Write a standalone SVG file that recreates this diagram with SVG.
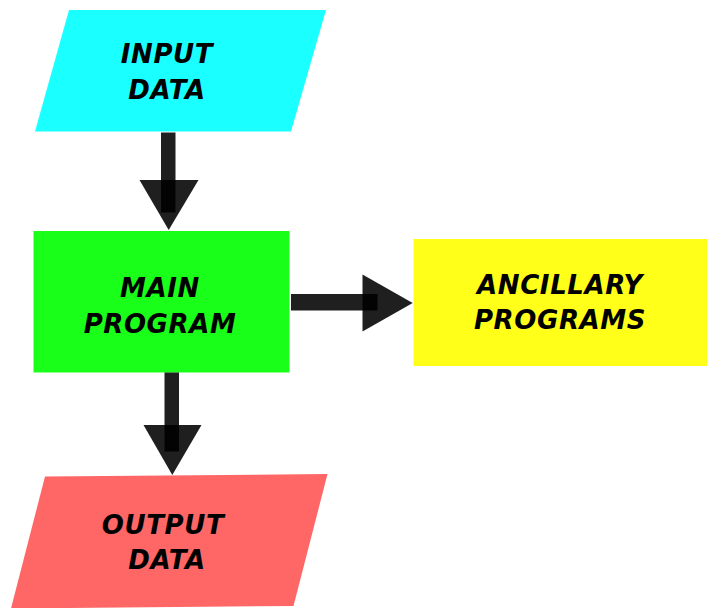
<svg xmlns="http://www.w3.org/2000/svg" width="707" height="608" viewBox="0 0 707 608">
<style>
  .lbl { font-family: "DejaVu Sans", "Liberation Sans", sans-serif; font-weight: bold; font-style: italic; font-size: 26px; letter-spacing: 0.6px; fill: #000; text-anchor: middle; }
  .arr { fill: #000; fill-opacity: 0.88; }
</style>
<rect width="707" height="608" fill="#fff"/>
<g id="input">
  <polygon points="69,10 326,10 291,131.5 35,131.5" fill="#1affff"/>
  <text class="lbl" x="167" y="63">INPUT</text>
  <text class="lbl" x="167" y="99">DATA</text>
</g>
<g id="main">
  <rect x="33.5" y="231" width="256" height="141.5" fill="#1aff1a"/>
  <text class="lbl" x="160" y="297">MAIN</text>
  <text class="lbl" x="160" y="333">PROGRAM</text>
</g>
<g id="ancillary">
  <rect x="413.5" y="239" width="294" height="127" fill="#ffff1a"/>
  <text class="lbl" x="560" y="294">ANCILLARY</text>
  <text class="lbl" x="560" y="329">PROGRAMS</text>
</g>
<g id="output">
  <polygon points="45,476.5 327.5,474 293.5,606 11,608.5" fill="#ff6666"/>
  <text class="lbl" x="163" y="534">OUTPUT</text>
  <text class="lbl" x="167" y="569">DATA</text>
</g>
<g id="connectors">
  <rect class="arr" x="161" y="132.5" width="14.5" height="80"/>
  <polygon class="arr" points="139.5,180 198.5,180 168.7,230"/>
  <rect class="arr" x="291" y="294" width="86.5" height="16.5"/>
  <polygon class="arr" points="362.5,274.5 412.7,303 362.5,331.5"/>
  <rect class="arr" x="164.5" y="372.5" width="14.5" height="79"/>
  <polygon class="arr" points="143.5,425 201.5,425 172.3,475"/>
</g>
</svg>
